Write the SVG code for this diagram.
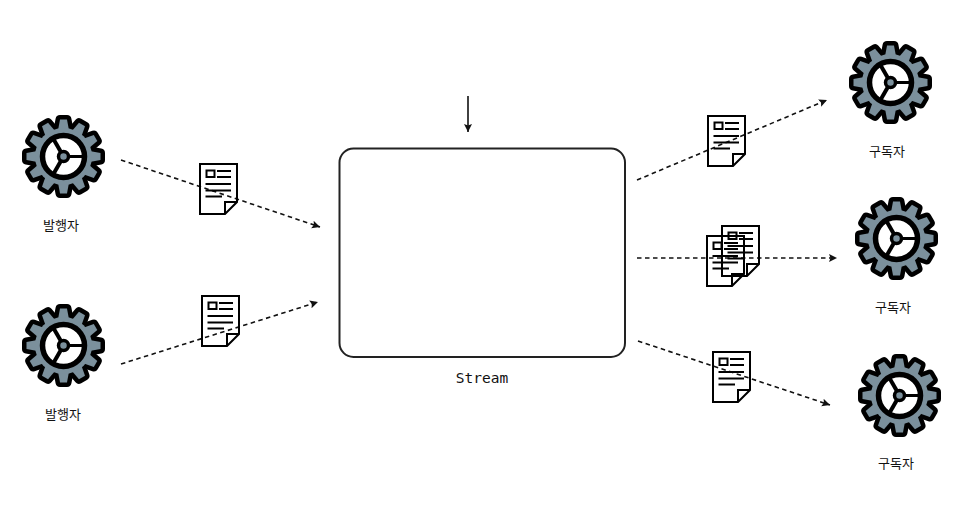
<svg xmlns="http://www.w3.org/2000/svg" xmlns:xlink="http://www.w3.org/1999/xlink" width="955" height="506" viewBox="0 0 955 506">
<style>
.lbl{font-family:"Noto Sans CJK KR","Noto Sans",sans-serif;font-size:13px;fill:#111;text-anchor:middle}
.mono{font-family:"DejaVu Sans Mono","Liberation Mono",monospace;font-size:14.5px;fill:#111;text-anchor:middle}
.dash{fill:none;stroke:#111;stroke-width:1.6;stroke-dasharray:4.5 3.5;marker-end:url(#arr)}
.doc{fill:none;stroke:#000;stroke-width:2;stroke-linejoin:miter}
.dl{stroke:#000;stroke-width:2;fill:none}
</style>
<defs>
<marker id="arr" markerUnits="userSpaceOnUse" markerWidth="10" markerHeight="10" refX="8" refY="4.500" orient="auto"><path d="M0 0.500L8 4.500L0 8.500L1.500 4.500Z" fill="#111"/></marker>
<path id="t" d="M-3.500 -37H3.500L5.500 -26H-5.500Z"/>
<g id="teeth">
<use xlink:href="#t"/><use xlink:href="#t" transform="rotate(30)"/><use xlink:href="#t" transform="rotate(60)"/><use xlink:href="#t" transform="rotate(90)"/><use xlink:href="#t" transform="rotate(120)"/><use xlink:href="#t" transform="rotate(150)"/><use xlink:href="#t" transform="rotate(180)"/><use xlink:href="#t" transform="rotate(210)"/><use xlink:href="#t" transform="rotate(240)"/><use xlink:href="#t" transform="rotate(270)"/><use xlink:href="#t" transform="rotate(300)"/><use xlink:href="#t" transform="rotate(330)"/>
</g>
<g id="gear">
<g fill="#000" stroke="#000" stroke-width="9" stroke-linejoin="round"><use xlink:href="#teeth"/><circle r="28.500"/></g>
<g fill="#7b909c"><use xlink:href="#teeth"/><circle r="28.500"/></g>
<circle r="21" fill="#fff" stroke="#000" stroke-width="5.500"/>
<g stroke="#000"><line x1="0" y1="0" x2="21" y2="0" stroke-width="3"/><line x1="0" y1="0" x2="-10.500" y2="-18.200" stroke-width="4"/><line x1="0" y1="0" x2="-10.500" y2="18.200" stroke-width="4"/></g>
<circle r="5" fill="#7b909c" stroke="#000" stroke-width="3.500"/>
</g>
<g id="d">
<path class="doc" d="M0 0H37V38L25 50H0Z"/>
<path class="doc" d="M25 50V38H37"/>
<rect class="dl" x="6.500" y="6.500" width="8" height="6.500"/>
<path class="dl" d="M17 7H31M17 13H31M5.500 20H31M5.500 26.500H31M5.500 32.500H22"/>
</g>
</defs>
<g id="connectors">
<path class="dash" d="M121 160L320 227"/>
<path class="dash" d="M121 364L318 302"/>
<path class="dash" d="M637 180L827 100"/>
<path class="dash" d="M637 258H837"/>
<path class="dash" d="M638 341L830 405"/>
<path d="M468 96V132" fill="none" stroke="#111" stroke-width="1.600" marker-end="url(#arr)"/>
</g>
<g id="stream"><rect x="339.500" y="148.500" width="285.500" height="208.500" rx="14" fill="none" stroke="#222" stroke-width="2"/><text class="mono" x="482" y="383">Stream</text></g>
<g id="pub1"><use xlink:href="#gear" x="63.500" y="156.500"/><text class="lbl" x="61" y="230">발행자</text></g>
<g id="pub2"><use xlink:href="#gear" x="63.500" y="345.500"/><text class="lbl" x="63" y="419">발행자</text></g>
<g id="sub1"><use xlink:href="#gear" x="890.500" y="82.500"/><text class="lbl" x="887" y="156">구독자</text></g>
<g id="sub2"><use xlink:href="#gear" x="896.500" y="238.500"/><text class="lbl" x="893" y="312">구독자</text></g>
<g id="sub3"><use xlink:href="#gear" x="899.500" y="395.500"/><text class="lbl" x="896" y="468">구독자</text></g>
<g id="msg1"><use xlink:href="#d" x="200" y="164"/></g>
<g id="msg2"><use xlink:href="#d" x="202" y="296"/></g>
<g id="msg3"><use xlink:href="#d" x="708" y="116"/></g>
<g id="msg4"><use xlink:href="#d" x="722" y="226"/></g>
<g id="msg5"><use xlink:href="#d" x="707" y="236"/></g>
<g id="msg6"><use xlink:href="#d" x="713" y="352"/></g>
</svg>
